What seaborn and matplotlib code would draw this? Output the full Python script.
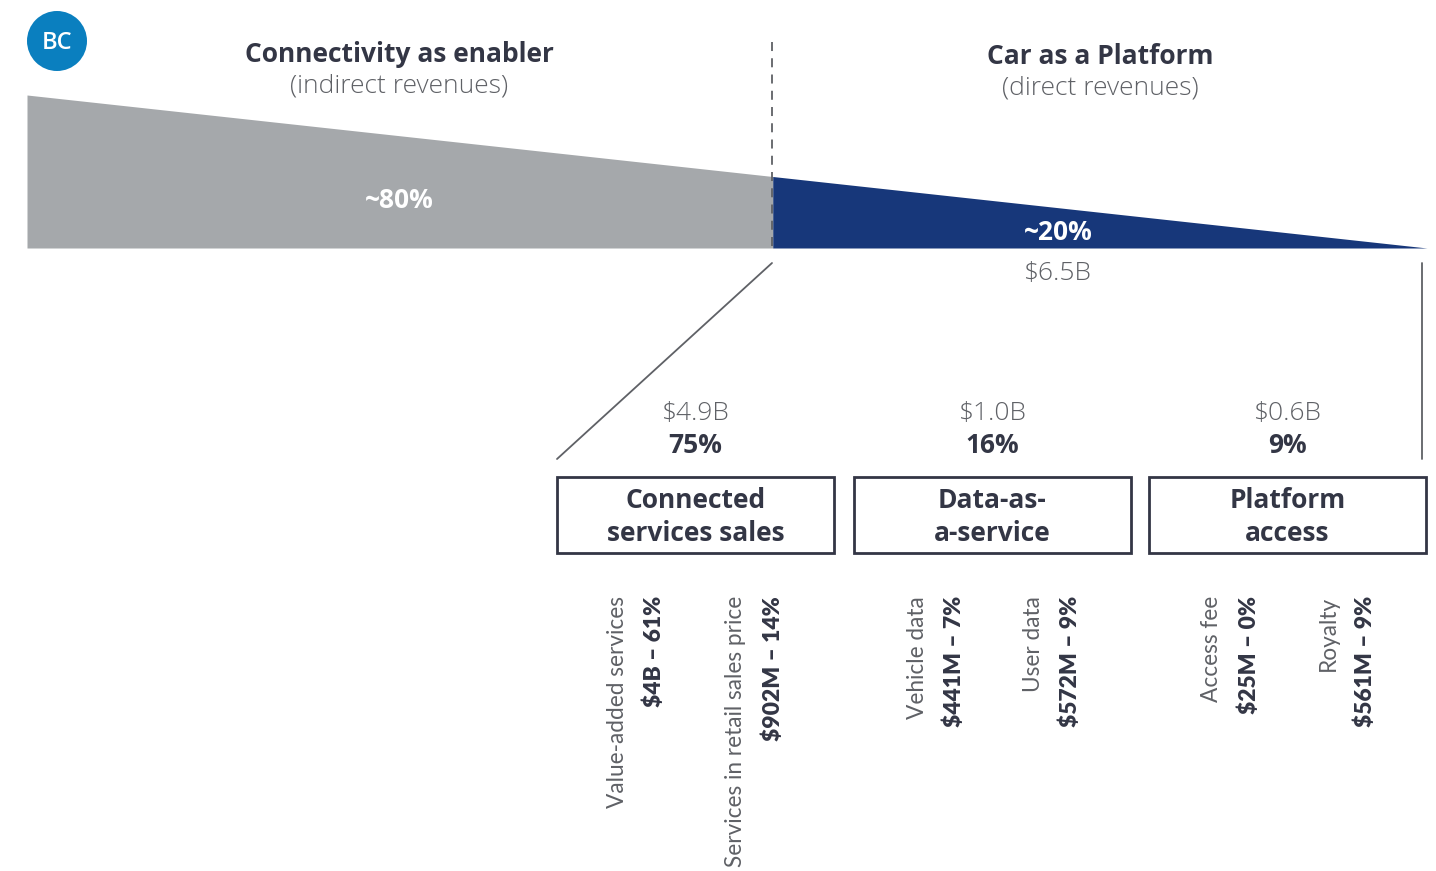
import numpy as np
import pandas as pd
import seaborn as sns
from matplotlib import pyplot as plt
from matplotlib.patches import Circle, Rectangle

# Top-level split of connected-car revenues.
segments = ["Connectivity as enabler", "Car as a Platform"]
segment_notes = ["(indirect revenues)", "(direct revenues)"]
segment_shares = ["~80%", "~20%"]
platform_total = "$6.5B"

# Direct revenue streams.
streams = ["Connected\nservices sales", "Data-as-\na-service", "Platform\naccess"]
stream_values = [4.9, 1.0, 0.6]
stream_shares = [75, 16, 9]

# Sub-streams (two per stream).
sub_labels = ["Value-added services", "Services in retail sales price",
              "Vehicle data", "User data", "Access fee", "Royalty"]
sub_values = ["$4B", "$902M", "$441M", "$572M", "$25M", "$561M"]
sub_shares = [61, 14, 7, 9, 0, 9]

sns.set_theme(style="white")
plt.rcParams["font.family"] = ["Open Sans", "DejaVu Sans"]

GRAY = "#a5a8ab"
BLUE = "#17377a"
DARK = "#333645"
MID = "#5f6166"
FS = 19

fig = plt.figure(figsize=(14.36, 8.71), dpi=100)
ax = fig.add_axes([0, 0, 1, 1])
ax.set_xlim(0, 1436)
ax.set_ylim(871, 0)
ax.axis("off")

# Tapered wedge: a single linear taper split at the divider.
x_left, x_split, x_right = 27, 772, 1427
base, top_left = 248, 95
xs = np.linspace(x_left, x_right, 200)
tops = base - (base - top_left) * (x_right - xs) / (x_right - x_left)
wedge = pd.DataFrame({"x": xs, "top": tops})
left = wedge[wedge["x"] <= x_split + 1]
right = wedge[wedge["x"] >= x_split - 1]
ax.fill_between(left["x"], left["top"], base, color=GRAY, lw=0)
ax.fill_between(right["x"], right["top"], base, color=BLUE, lw=0)

# Divider and headers.
ax.plot([x_split, x_split], [42, base], color=MID, lw=1.3, ls=(0, (5, 4)))
for cx, dy, name, note in zip([399, 1100], [0, 2], segments, segment_notes):
    ax.text(cx, 54 + dy, name, ha="center", va="center", fontsize=FS,
            fontweight="bold", color=DARK)
    ax.text(cx, 86 + dy, note, ha="center", va="center",
            fontsize=FS, fontweight="light", color=MID)
ax.text(399, 200, segment_shares[0], ha="center", va="center", fontsize=FS,
        fontweight="bold", color="white")
ax.text(1058, 232, segment_shares[1], ha="center", va="center", fontsize=FS,
        fontweight="bold", color="white")
ax.text(1058, 273, platform_total, ha="center", va="center", fontsize=FS,
        fontweight="light", color=MID)

# Badge.
ax.add_patch(Circle((57, 41), 30, color="#0a7fbf", lw=0))
ax.text(57, 43, "BC", ha="center", va="center", fontsize=17,
        fontweight="semibold", color="white")

# Zoom lines from the blue wedge down to the streams.
ax.plot([x_split, 557], [263, 459], color=MID, lw=1.3)
ax.plot([1422, 1422], [263, 459], color=MID, lw=1.3)

# Stream boxes.
box_x = [557, 854, 1149]
box_w = 277
for bx, name, val, share in zip(box_x, streams, stream_values, stream_shares):
    cx = bx + box_w / 2
    ax.text(cx, 413, f"${val:.1f}B", ha="center", va="center", fontsize=FS,
            fontweight="light", color=MID)
    ax.text(cx, 445, f"{share}%", ha="center", va="center", fontsize=FS,
            fontweight="bold", color=DARK)
    ax.add_patch(Rectangle((bx, 477), box_w, 76, fill=False, ec=DARK, lw=2))
    ax.text(cx, 517, name, ha="center", va="center", fontsize=FS,
            fontweight="bold", color=DARK, linespacing=1.25)

# Rotated sub-stream labels.
sub_x = [617, 736, 917, 1033, 1212, 1328]
for sx, lab, val, share in zip(sub_x, sub_labels, sub_values, sub_shares):
    ax.text(sx, 596, lab, rotation=90, ha="center", va="top", fontsize=16.3,
            fontweight="normal", color=MID, family=["Lato", "DejaVu Sans"])
    ax.text(sx + 37, 596, f"{val} \u2013 {share}%", rotation=90, ha="center",
            va="top", fontsize=16.5, fontweight="heavy", color=DARK,
            family=["Lato", "DejaVu Sans"])

fig.savefig("out.png", dpi=100)
